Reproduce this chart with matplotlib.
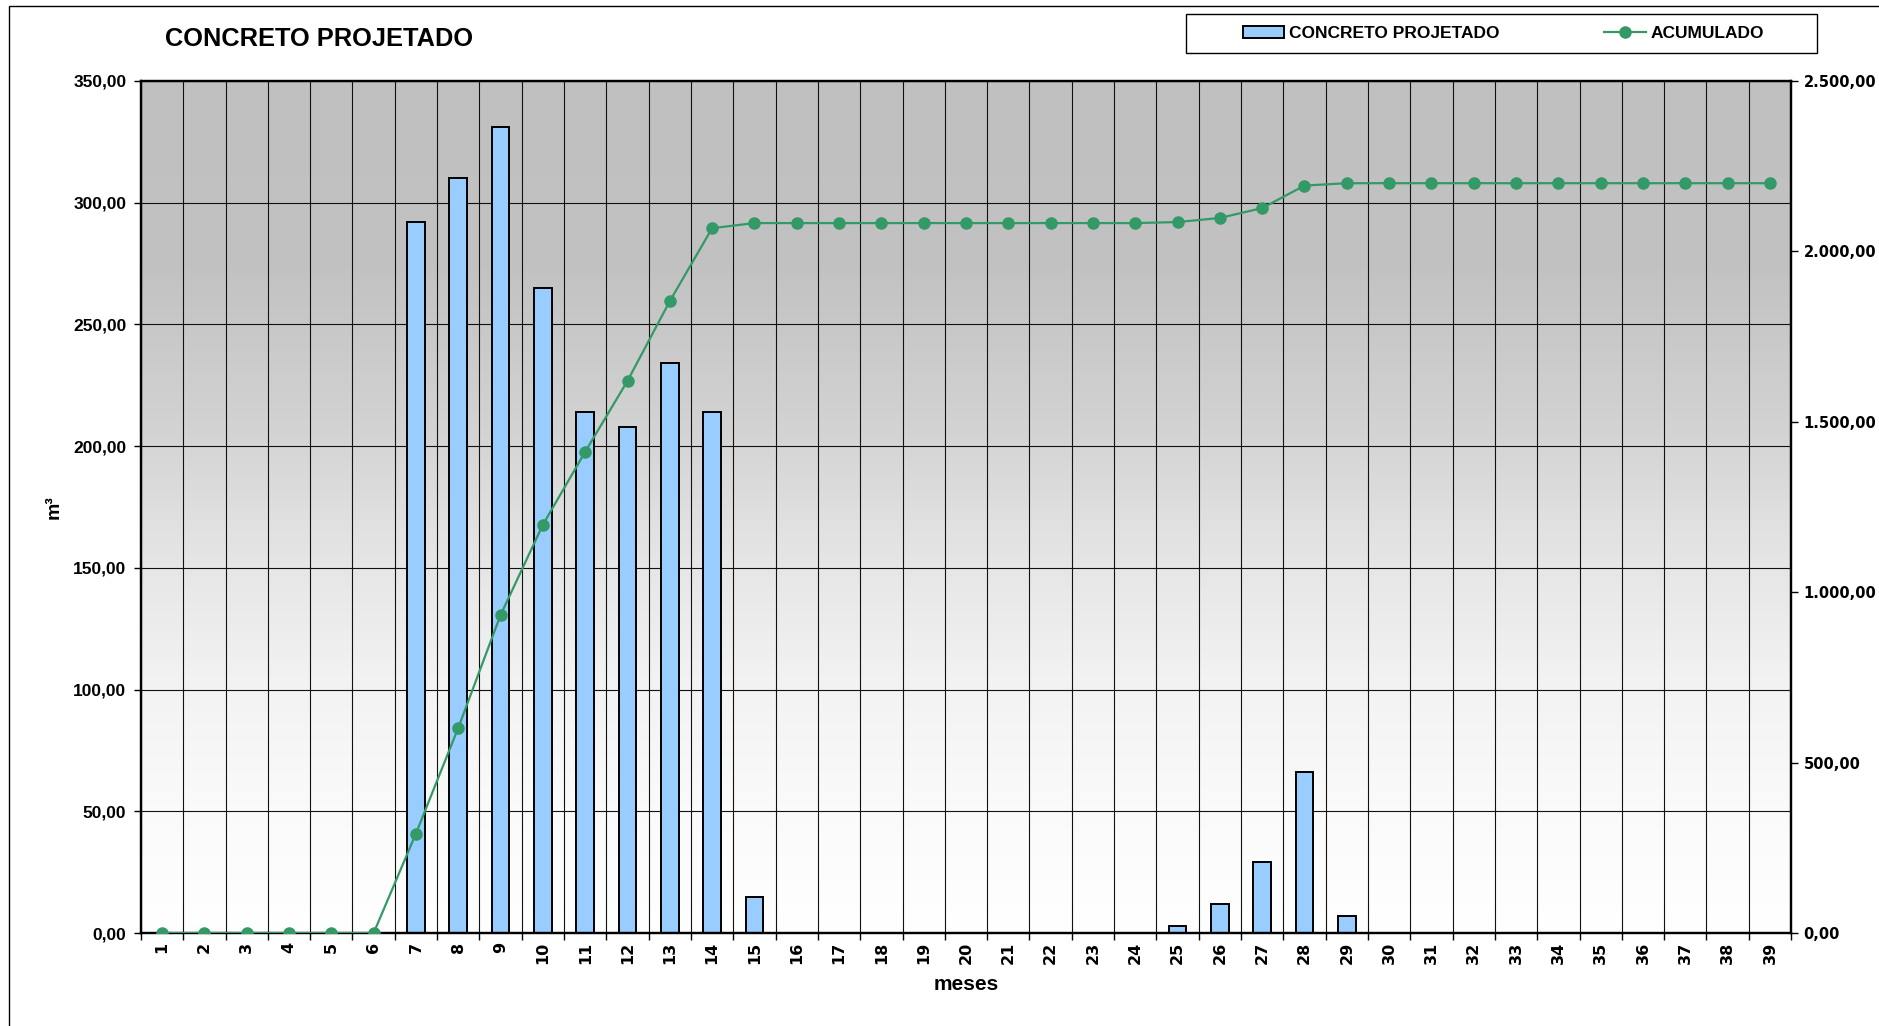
import numpy as np
import matplotlib.pyplot as plt
from matplotlib.patches import Rectangle
from matplotlib.ticker import FuncFormatter, MultipleLocator
from matplotlib.colors import LinearSegmentedColormap

# volume de concreto projetado por mês (m³)
meses = list(range(1, 40))
concreto = [0, 0, 0, 0, 0, 0, 292, 310, 331, 265, 214, 208, 234, 214, 15,
            0, 0, 0, 0, 0, 0, 0, 0, 0, 3, 12, 29, 66, 7,
            0, 0, 0, 0, 0, 0, 0, 0, 0, 0]
acumulado = np.cumsum(concreto)

fonte = 'Liberation Sans'
verde = '#339966'
azul = '#99ccff'


def br(v, pos=None):
    # formato brasileiro: 2.500,00
    s = f'{v:,.2f}'
    return s.replace(',', 'X').replace('.', ',').replace('X', '.')


fig = plt.figure(figsize=(18.79, 10.26), dpi=100)
ax = fig.add_axes([0.0750, 0.0906, 0.8782, 0.8305])

# fundo em degradê cinza -> branco
fundo = LinearSegmentedColormap.from_list(
    'fundo', [(0.0, '#ffffff'), (0.15, '#fafafa'), (0.30, '#f2f2f2'),
              (0.45, '#e4e4e4'), (0.60, '#d2d2d2'), (0.78, '#c2c2c2'),
              (1.0, '#c0c0c0')])
grad = np.linspace(0, 1, 256).reshape(-1, 1)
ax.imshow(grad, extent=[0, 1, 0, 1], transform=ax.transAxes, origin='lower',
          aspect='auto', cmap=fundo, zorder=0)

ax.bar(meses, concreto, width=0.42, color=azul, edgecolor='black',
       linewidth=1.4, zorder=2, label='CONCRETO PROJETADO')
ax.set_xlim(0.5, 39.5)
ax.set_ylim(0, 350)
ax.set_axisbelow(True)

ax2 = ax.twinx()
ax2.plot(meses, acumulado, color=verde, lw=1.6, marker='o', markersize=8,
         label='ACUMULADO', zorder=3)
ax2.set_ylim(0, 2500)

# grades
ax.yaxis.set_major_locator(MultipleLocator(50))
ax.xaxis.set_major_locator(MultipleLocator(1))
ax.xaxis.set_minor_locator(MultipleLocator(1, offset=0.5))
ax.grid(axis='y', which='major', color='#111111', lw=0.8, zorder=1)
ax.grid(axis='x', which='minor', color='#111111', lw=0.8, zorder=1)
ax2.yaxis.set_major_locator(MultipleLocator(500))

ax.yaxis.set_major_formatter(FuncFormatter(br))
ax2.yaxis.set_major_formatter(FuncFormatter(br))
ax.set_xticks(meses)
ax.set_xticklabels([str(m) for m in meses], rotation=90,
                   fontfamily='DejaVu Sans', fontweight='bold', fontsize=11.5)
ax.tick_params(axis='x', which='major', length=0, pad=6)
ax.tick_params(axis='x', which='minor', length=5, width=1, direction='out')
ax.tick_params(axis='y', length=5, width=1, pad=5.5, labelsize=12.5)
ax2.tick_params(axis='y', length=5, width=1, pad=4)
for t in ax.get_yticklabels():
    t.set_fontfamily(fonte)
    t.set_fontweight('bold')
for t in ax2.get_yticklabels():
    t.set_fontfamily('DejaVu Sans')
    t.set_fontweight('bold')
    t.set_fontsize(10.5)

for a in (ax, ax2):
    for s in a.spines.values():
        s.set_linewidth(1.6)
        s.set_color('black')

# textos
fig.text(165 / 1879, 1 - 46 / 1026, 'CONCRETO PROJETADO', fontfamily=fonte,
         fontweight='bold', fontsize=18.3, va='baseline', ha='left')
fig.text(966 / 1879, 1 - 985 / 1026, 'meses', fontfamily=fonte,
         fontweight='bold', fontsize=15, ha='center', va='center')
fig.text(54 / 1879, 1 - 507 / 1026, 'm³', fontfamily=fonte,
         fontweight='bold', fontsize=14, rotation=90, ha='center', va='center')

# legenda com moldura
fig.add_artist(Rectangle((1186 / 1879, 1 - 53 / 1026), 631 / 1879, 39 / 1026,
                         transform=fig.transFigure, facecolor='white',
                         edgecolor='black', lw=1.0))
h1, l1 = ax.get_legend_handles_labels()
h2, l2 = ax2.get_legend_handles_labels()
leg = fig.legend(h1 + h2, l1 + l2, loc='center',
                 bbox_to_anchor=(1503.5 / 1879, 1 - 33.5 / 1026), ncol=2,
                 frameon=False, handlelength=2.4, handletextpad=0.3,
                 columnspacing=6.0, prop={'family': fonte, 'weight': 'bold',
                                          'size': 12.5})

# moldura externa do gráfico
fig.add_artist(Rectangle((9 / 1879, -0.1), 1.2, 1.1 - 6 / 1026,
                         transform=fig.transFigure, facecolor='none',
                         edgecolor='black', lw=1.0))

fig.savefig('out.png', dpi=100)
